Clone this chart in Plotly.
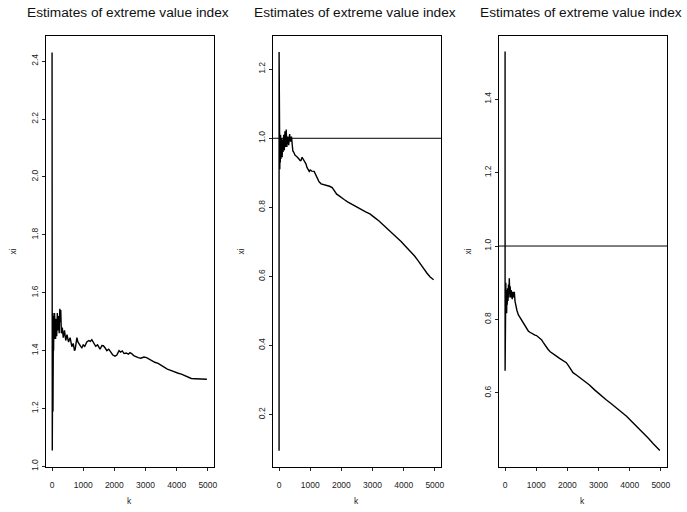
import plotly.graph_objects as go

# ---------------- data ----------------
k1 = [1, 2, 3, 4, 6, 8, 10, 13, 16, 20, 25, 30, 35, 40, 45, 50, 60, 70, 80, 90,
      100, 115, 130, 150, 170, 190, 210, 230, 250, 265, 280, 300, 330, 360, 400,
      440, 480, 530, 580, 636, 680, 720, 744, 770, 798, 830, 870, 920, 958, 1000,
      1050, 1117, 1180, 1230, 1277, 1330, 1400, 1460, 1500, 1542, 1600, 1648, 1700,
      1760, 1820, 1880, 1950, 2021, 2080, 2150, 2200, 2255, 2310, 2380, 2450, 2500,
      2554, 2620, 2700, 2765, 2850, 2950, 3033, 3120, 3200, 3300, 3404, 3500, 3600,
      3700, 3831, 3950, 4050, 4151, 4250, 4350, 4470, 4600, 4735, 4850, 4970]
xi1 = [2.43, 1.06, 1.79, 1.25, 1.52, 1.055, 1.45, 1.19, 1.50, 1.32, 1.53, 1.19, 1.45,
       1.35, 1.52, 1.40, 1.50, 1.44, 1.53, 1.46, 1.50, 1.44, 1.51, 1.45, 1.53, 1.47,
       1.52, 1.46, 1.545, 1.50, 1.54, 1.46, 1.48, 1.445, 1.47, 1.435, 1.455, 1.43,
       1.445, 1.414, 1.425, 1.40, 1.405, 1.435, 1.445, 1.43, 1.425, 1.415, 1.41, 1.42,
       1.415, 1.43, 1.435, 1.432, 1.438, 1.43, 1.415, 1.42, 1.41, 1.405, 1.418, 1.417,
       1.41, 1.40, 1.405, 1.395, 1.385, 1.381, 1.385, 1.40, 1.395, 1.399, 1.39, 1.392,
       1.388, 1.393, 1.39, 1.383, 1.378, 1.376, 1.374, 1.378, 1.376, 1.37, 1.365, 1.36,
       1.356, 1.35, 1.343, 1.336, 1.331, 1.325, 1.322, 1.319, 1.314, 1.31, 1.304,
       1.303, 1.302, 1.300, 1.301]

k2 = [1, 2, 3, 4, 5, 7, 9, 12, 15, 20, 25, 30, 40, 50, 60, 70, 80, 90, 100, 115,
      130, 150, 170, 190, 210, 231, 250, 280, 310, 340, 369, 400, 420, 442, 480, 520,
      560, 600, 640, 680, 705, 740, 768, 800, 863, 900, 940, 969, 1000, 1050, 1127,
      1180, 1230, 1285, 1350, 1420, 1480, 1548, 1620, 1706, 1780, 1850, 1930, 2021,
      2100, 2200, 2337, 2450, 2550, 2653, 2780, 2916, 3000, 3100, 3200, 3285, 3400,
      3500, 3601, 3700, 3800, 3917, 4050, 4150, 4233, 4350, 4450, 4548, 4650, 4750,
      4850, 4960]
xi2 = [0.095, 1.25, 0.76, 1.18, 0.93, 1.12, 0.92, 1.06, 0.93, 1.03, 0.91, 1.00, 0.93,
       1.01, 0.94, 0.985, 0.96, 1.00, 0.945, 0.995, 0.96, 1.01, 0.965, 1.02, 0.975,
       1.025, 0.975, 1.005, 0.98, 1.012, 0.99, 1.005, 0.975, 0.964, 0.958, 0.95, 0.948,
       0.945, 0.94, 0.935, 0.936, 0.945, 0.941, 0.935, 0.926, 0.915, 0.905, 0.904,
       0.908, 0.905, 0.904, 0.895, 0.882, 0.874, 0.868, 0.866, 0.866, 0.864, 0.861,
       0.857, 0.848, 0.838, 0.833, 0.826, 0.822, 0.816, 0.809, 0.803, 0.797, 0.792,
       0.787, 0.781, 0.776, 0.768, 0.761, 0.754, 0.744, 0.735, 0.727, 0.719, 0.711,
       0.701, 0.688, 0.679, 0.671, 0.659, 0.647, 0.634, 0.621, 0.609, 0.598, 0.590]

k3 = [1, 2, 3, 4, 6, 8, 10, 13, 16, 20, 25, 30, 40, 51, 60, 70, 80, 95, 110, 125,
      137, 150, 165, 180, 195, 211, 230, 250, 270, 297, 320, 340, 380, 425, 480, 531,
      580, 638, 700, 750, 798, 850, 900, 960, 1010, 1060, 1110, 1169, 1230, 1300, 1383,
      1450, 1520, 1600, 1649, 1750, 1850, 1968, 2050, 2120, 2181, 2300, 2420, 2554,
      2700, 2874, 3000, 3120, 3245, 3400, 3500, 3618, 3750, 3900, 4042, 4200, 4330,
      4470, 4600, 4750, 4850, 4968]
xi3 = [1.53, 0.66, 1.12, 0.70, 1.00, 0.75, 0.95, 0.78, 0.92, 0.80, 0.90, 0.82, 0.88,
       0.817, 0.87, 0.84, 0.885, 0.85, 0.895, 0.86, 0.912, 0.87, 0.89, 0.86, 0.88,
       0.871, 0.855, 0.875, 0.86, 0.875, 0.85, 0.84, 0.825, 0.813, 0.805, 0.799, 0.79,
       0.781, 0.772, 0.768, 0.765, 0.762, 0.76, 0.757, 0.756, 0.752, 0.749, 0.745,
       0.737, 0.727, 0.718, 0.712, 0.707, 0.702, 0.70, 0.694, 0.689, 0.682, 0.672,
       0.663, 0.655, 0.648, 0.64, 0.632, 0.622, 0.608, 0.598, 0.59, 0.581, 0.571,
       0.564, 0.558, 0.548, 0.536, 0.524, 0.511, 0.499, 0.488, 0.476, 0.462, 0.454,
       0.443]

ref_level = 1.0
x_ticks = [0, 1000, 2000, 3000, 4000, 5000]
y_ticks1 = [1.0, 1.2, 1.4, 1.6, 1.8, 2.0, 2.2, 2.4]
y_ticks2 = [0.2, 0.4, 0.6, 0.8, 1.0, 1.2]
y_ticks3 = [0.6, 0.8, 1.0, 1.2, 1.4]
title_text = "Estimates of extreme value index"

# ---------------- layout geometry ----------------
W, H = 687, 512
panels_px = [(46, 215), (274, 443), (501, 670)]
top_px, bot_px = 36, 471
ydom = [1 - bot_px / H, 1 - top_px / H]
yranges = [[0.997, 2.488], [0.047, 1.297], [0.397, 1.573]]
yticks = [y_ticks1, y_ticks2, y_ticks3]
series = [(k1, xi1), (k2, xi2), (k3, xi3)]
xi_label_px = [13, 242, 470]

FONT = "Liberation Sans, Arial, Helvetica, sans-serif"

fig = go.Figure()
layout = dict(
    width=W, height=H,
    margin=dict(l=0, r=0, t=0, b=0),
    paper_bgcolor="white", plot_bgcolor="white",
    showlegend=False,
    font=dict(family=FONT, color="#222222"),
)
annotations = []
shapes = []

for i, ((x0, x1), (kk, vv)) in enumerate(zip(panels_px, series)):
    n = "" if i == 0 else str(i + 1)
    fig.add_trace(go.Scatter(x=kk, y=vv, mode="lines",
                             line=dict(color="black", width=1.4),
                             xaxis="x" + n, yaxis="y" + n, hoverinfo="skip"))
    layout["xaxis" + n] = dict(
        domain=[x0 / W, x1 / W], anchor="y" + n, range=[-200, 5200],
        tickvals=x_ticks, ticktext=[str(t) for t in x_ticks],
        ticks="outside", ticklen=3, tickcolor="#222222",
        showgrid=False, zeroline=False,
        showline=True, linecolor="black", linewidth=1, mirror=True,
        tickfont=dict(size=8.5, family=FONT, color="#222222"),
        ticklabelstandoff=6,
    )
    layout["yaxis" + n] = dict(
        domain=ydom, anchor="x" + n, range=yranges[i],
        tickvals=yticks[i], ticktext=["%.1f" % t for t in yticks[i]],
        ticks="outside", ticklen=3, tickcolor="#222222", tickangle=-90,
        showgrid=False, zeroline=False,
        showline=True, linecolor="black", linewidth=1, mirror=True,
        tickfont=dict(size=8.5, family=FONT, color="#222222"),
    )
    cx = (x0 + x1) / 2 - 2
    annotations.append(dict(text=title_text, x=cx / W, y=1 - 13 / H,
                            xref="paper", yref="paper", showarrow=False,
                            xanchor="center", yanchor="middle",
                            font=dict(size=13.7, family=FONT, color="#111111")))
    annotations.append(dict(text="k", x=(x0 + x1) / 2 / W, y=1 - 505 / H,
                            xref="paper", yref="paper", showarrow=False,
                            xanchor="center", yanchor="middle",
                            font=dict(size=8.5, family=FONT, color="#222222")))
    annotations.append(dict(text="xi", x=xi_label_px[i] / W,
                            y=1 - (top_px + bot_px) / 2 / H,
                            xref="paper", yref="paper", showarrow=False,
                            textangle=-90, xanchor="center", yanchor="middle",
                            font=dict(size=8.5, family=FONT, color="#222222")))
    if i > 0:
        shapes.append(dict(type="line", xref="x" + n + " domain", yref="y" + n,
                           x0=0, x1=1, y0=ref_level, y1=ref_level,
                           line=dict(color="black", width=1)))

layout["annotations"] = annotations
layout["shapes"] = shapes
fig.update_layout(**layout)
fig.write_html("out.html")
